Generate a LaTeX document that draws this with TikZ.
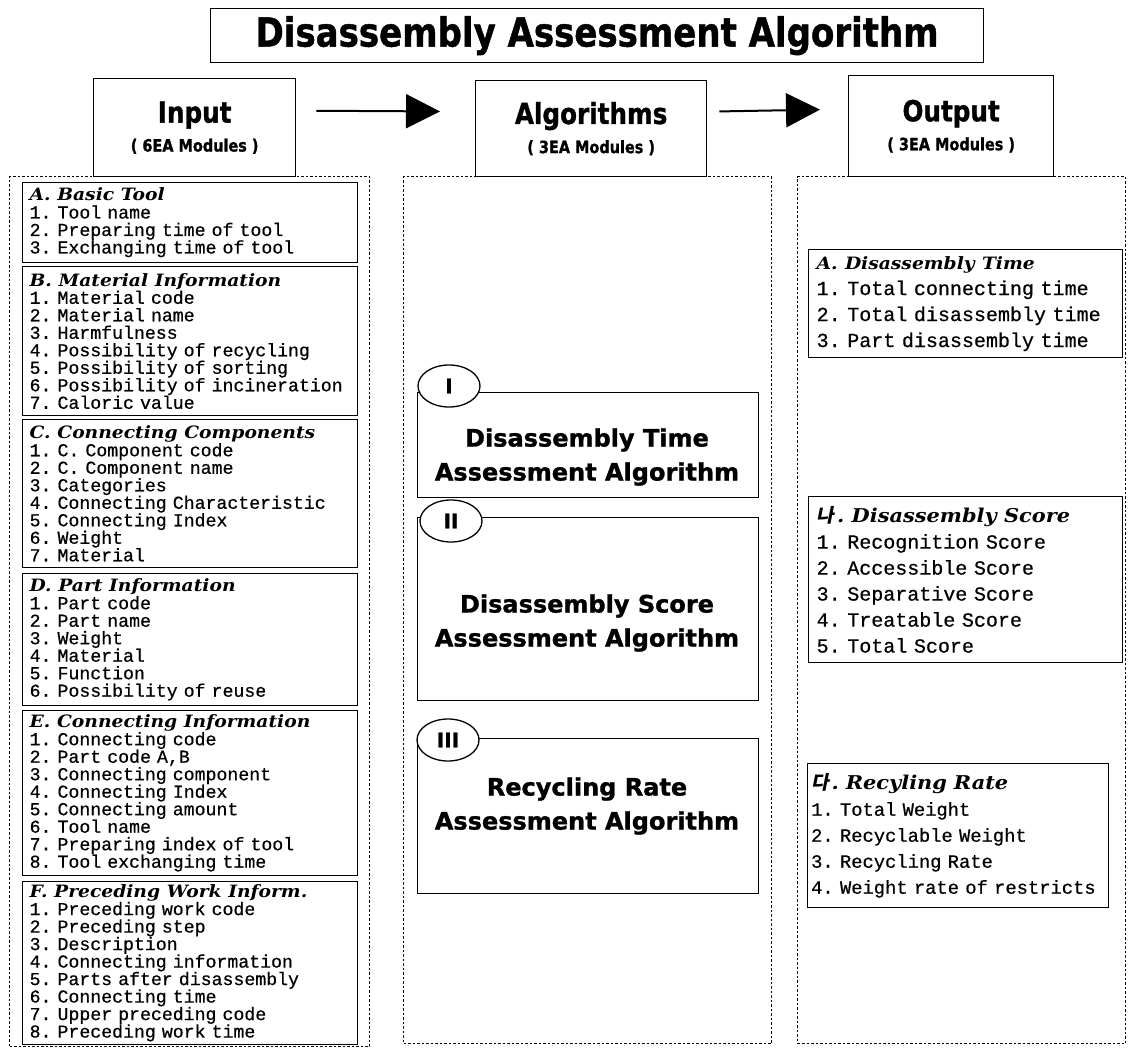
\documentclass[tikz,border=0pt]{standalone}
\usepackage{fontspec}
\setmainfont[FakeBold=0.6]{Liberation Mono}
\newfontfamily\headfont{DejaVu Serif}
\newfontfamily\blockfont[FakeBold=1.2]{DejaVu Sans}
\newfontfamily\kofont[FakeSlant=0.2]{Noto Sans CJK KR}
\usepackage{tikz}
\usetikzlibrary{arrows.meta, positioning, shapes.geometric}
\tikzstyle{bigarrow} = [line width=2pt, -{Triangle[length=34pt,width=34pt]}]
\tikzstyle{column} = [draw, line width=1.3pt, dash pattern=on 2.5pt off 2pt, anchor=north west, inner sep=0pt]
\tikzstyle{hdbox} = [draw, line width=1.3pt, anchor=north west, align=center, inner sep=0pt]
\tikzstyle{inbox} = [draw, line width=1.3pt, anchor=north west, align=left, inner xsep=7pt, inner ysep=3pt,
  text width=321pt, minimum width=335pt, font=\fontsize{18.2}{17.5}\selectfont]
\tikzstyle{outbox} = [draw, line width=1.3pt, anchor=north west, align=left, inner xsep=8pt, inner ysep=3pt,
  text width=298pt, minimum width=314pt, font=\fontsize{20}{26}\selectfont]
\tikzstyle{algbox} = [draw, line width=1.3pt, anchor=north west, minimum width=341pt, inner sep=0pt]
\tikzstyle{numcirc} = [ellipse, draw, fill=white, line width=1.3pt, minimum width=62pt, minimum height=42pt, inner sep=0pt,
  font=\blockfont\bfseries\fontsize{20}{20}\selectfont]
\tikzstyle{algtext} = [align=center, font=\blockfont\bfseries\fontsize{24}{34}\selectfont]
\newcommand{\modhead}[1]{{\headfont\bfseries\itshape\fontsize{17}{17.5}\selectfont\scalebox{1.1}[1]{#1}}}
\newcommand{\kohead}[2]{{\kofont\bfseries\fontsize{19}{19}\selectfont #1}\hspace{3pt}{\headfont\bfseries\itshape\fontsize{19}{19}\selectfont\scalebox{1.1}[1]{#2}}}
\newcommand{\bigtitle}[1]{\scalebox{0.85}[1]{\blockfont\bfseries #1}}

\begin{document}
\frenchspacing
\begin{tikzpicture}[x=1pt, y=-1pt]
  \useasboundingbox (0,0) rectangle (1136,1049);
  % title and headers
  \node (title) [hdbox, minimum width=773pt, minimum height=54pt] at (210,8)
    {\fontsize{40}{40}\selectfont\bigtitle{Disassembly Assessment Algorithm}};
  \node (inp) [hdbox, minimum width=202pt, minimum height=98pt] at (93,78)
    {\fontsize{29}{29}\selectfont\bigtitle{Input}\\[9pt]\fontsize{17}{17}\selectfont\bigtitle{( 6EA Modules )}};
  \node (alg) [hdbox, minimum width=231pt, minimum height=96pt] at (475,80)
    {\fontsize{29}{29}\selectfont\bigtitle{Algorithms}\\[9pt]\fontsize{17}{17}\selectfont\bigtitle{( 3EA Modules )}};
  \node (out) [hdbox, minimum width=205pt, minimum height=101pt] at (848,75)
    {\fontsize{29}{29}\selectfont\bigtitle{Output}\\[9pt]\fontsize{17}{17}\selectfont\bigtitle{( 3EA Modules )}};
  \draw [bigarrow, shorten <=20pt, shorten >=35pt] ([yshift=17pt]inp.east) -- ([yshift=17pt]alg.west);
  \draw [bigarrow, shorten <=12pt, shorten >=28pt] ([yshift=17pt]alg.east) -- ([yshift=17pt]out.west);

  % dotted columns
  \node (incol) [column, minimum width=360pt, minimum height=870pt] at (9,176) {};
  \node (algcol) [column, minimum width=368pt, minimum height=867pt] at (403,176) {};
  \node (outcol) [column, minimum width=328pt, minimum height=867pt] at (797,176) {};

  % input modules
  \node (tool) [inbox, minimum height=80pt] at (22,182) {\modhead{A. Basic Tool}\\
    1. Tool name\\2. Preparing time of tool\\3. Exchanging time of tool};
  \node (mat) [inbox, minimum height=149pt] at (22,266) {\modhead{B. Material Information}\\
    1. Material code\\2. Material name\\3. Harmfulness\\4. Possibility of recycling\\
    5. Possibility of sorting\\6. Possibility of incineration\\7. Caloric value};
  \node (comp) [inbox, minimum height=148pt] at (22,419) {\modhead{C. Connecting Components}\\
    1. C. Component code\\2. C. Component name\\3. Categories\\4. Connecting Characteristic\\
    5. Connecting Index\\6. Weight\\7. Material};
  \node (part) [inbox, minimum height=132pt] at (22,573) {\modhead{D. Part Information}\\
    1. Part code\\2. Part name\\3. Weight\\4. Material\\5. Function\\6. Possibility of reuse};
  \node (conn) [inbox, minimum height=165pt] at (22,710) {\modhead{E. Connecting Information}\\
    1. Connecting code\\2. Part code A,B\\3. Connecting component\\4. Connecting Index\\
    5. Connecting amount\\6. Tool name\\7. Preparing index of tool\\8. Tool exchanging time};
  \node (prec) [inbox, minimum height=162pt] at (22,881) {\modhead{F. Preceding Work Inform.}\\
    1. Preceding work code\\2. Preceding step\\3. Description\\4. Connecting information\\
    5. Parts after disassembly\\6. Connecting time\\7. Upper preceding code\\8. Preceding work time};

  % algorithm modules
  \node (alg1) [algbox, minimum height=105pt] at (417,392) {};
  \node (alg2) [algbox, minimum height=183pt] at (417,517) {};
  \node (alg3) [algbox, minimum height=155pt] at (417,738) {};
  \node (num1) [numcirc] at (449,386) {I};
  \node (num2) [numcirc] at (451,521) {II};
  \node (num3) [numcirc] at (448,740) {III};
  \node (txt1) [algtext] at (587,457) {Disassembly Time\\Assessment Algorithm};
  \node (txt2) [algtext] at (587,623) {Disassembly Score\\Assessment Algorithm};
  \node (txt3) [algtext] at (587,806) {Recycling Rate\\Assessment Algorithm};

  % output modules
  \node (otime) [outbox, minimum height=108pt] at (808,249) {\modhead{A. Disassembly Time}\\
    1. Total connecting time\\2. Total disassembly time\\3. Part disassembly time};
  \node (oscore) [outbox, minimum height=166pt] at (808,496) {\kohead{나}{. Disassembly Score}\\
    1. Recognition Score\\2. Accessible Score\\3. Separative Score\\4. Treatable Score\\5. Total Score};
  \node (orate) [outbox, minimum height=144pt, minimum width=301pt, text width=294pt, inner xsep=3.5pt,
    font=\fontsize{18.8}{26}\selectfont] at (807,763)
    {\kohead{다}{. Recyling Rate}\\
    1. Total Weight\\2. Recyclable Weight\\3. Recycling Rate\\4. Weight rate of restricts};
\end{tikzpicture}
\end{document}
